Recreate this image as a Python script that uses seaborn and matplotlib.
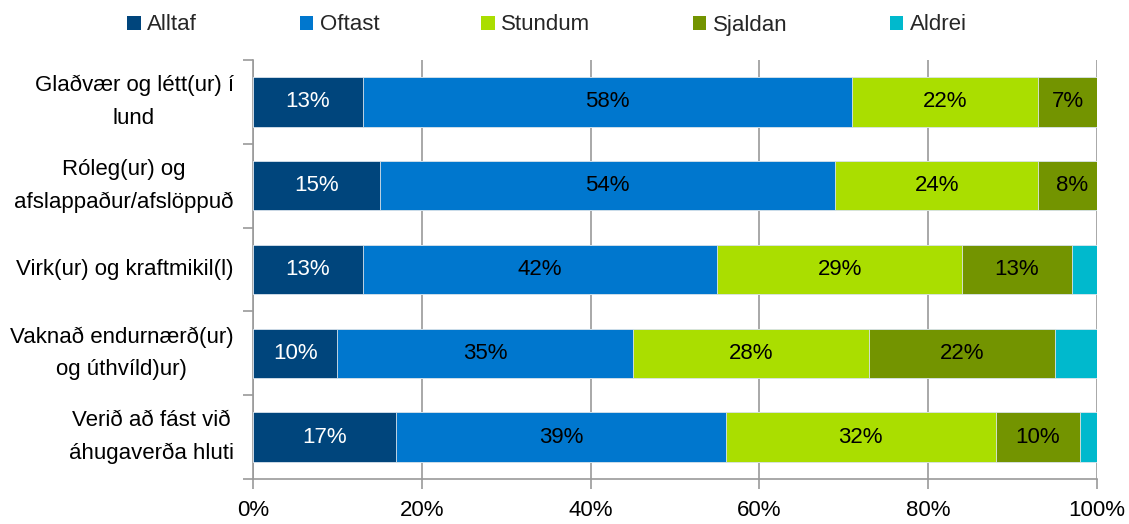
import matplotlib
matplotlib.use("Agg")
import matplotlib.pyplot as plt
from matplotlib import font_manager
from matplotlib.patches import Patch
from matplotlib.ticker import FixedLocator
import numpy as np
import pandas as pd
import seaborn as sns

categories = [
    "Glaðvær og létt(ur) í\nlund",
    "Róleg(ur) og\nafslappaður/afslöppuð",
    "Virk(ur) og kraftmikil(l)",
    "Vaknað endurnærð(ur)\nog úthvíld)ur)",
    "Verið að fást við\náhugaverða hluti",
]
series = ["Alltaf", "Oftast", "Stundum", "Sjaldan", "Aldrei"]
alltaf = [13, 15, 13, 10, 17]
oftast = [58, 54, 42, 35, 39]
stundum = [22, 24, 29, 28, 32]
sjaldan = [7, 8, 13, 22, 10]
aldrei = [0, 0, 3, 5, 2]
colors = ["#00457C", "#0077CE", "#AADE00", "#739400", "#00B9CD"]
label_colors = ["white", "black", "black", "black", "black"]
xticks = [0, 20, 40, 60, 80, 100]

sns.set_theme(style="white")
installed = {f.name for f in font_manager.fontManager.ttflist}
if "Liberation Sans Narrow" in installed:
    plt.rcParams["font.family"] = ["Liberation Sans Narrow", "DejaVu Sans"]
    FS = 18.4
else:
    plt.rcParams["font.family"] = ["Liberation Sans", "DejaVu Sans"]
    FS = 16

values = np.array([alltaf, oftast, stundum, sjaldan, aldrei], dtype=float)
cums = np.cumsum(values, axis=0)

fig = plt.figure(figsize=(11.29, 5.24), dpi=100)
ax = fig.add_axes([253 / 1129, 1 - 479 / 524, (1097 - 253) / 1129, (479 - 60) / 524])

# Stacked bars: draw cumulative totals from the outermost series inwards
for i in reversed(range(len(series))):
    df = pd.DataFrame({"cat": categories, "val": cums[i]})
    sns.barplot(data=df, x="val", y="cat", orient="h", color=colors[i],
                saturation=1, width=0.59, edgecolor="#DDE6EE", linewidth=0.6,
                ax=ax, zorder=3)

# Segment value labels
for i in range(len(series)):
    for j, cat in enumerate(categories):
        v = values[i, j]
        if v >= 5 and i < 4:
            ax.text(cums[i, j] - v / 2, j, f"{int(v)}%", ha="center", va="center",
                    color=label_colors[i], fontsize=FS, zorder=5)

ax.set_xlim(0, 100)
ax.set_ylim(len(categories) - 0.5, -0.5)
ax.xaxis.set_major_locator(FixedLocator(xticks))
ax.set_xticklabels([f"{t}%" for t in xticks], fontsize=FS, color="black")
ax.set_yticks(range(len(categories)))
ax.set_yticklabels(categories, fontsize=FS, color="black", va="center",
                   multialignment="center", linespacing=1.7)
ax.set_xlabel("")
ax.set_ylabel("")
ax.grid(axis="x", color="#9A9A9A", linewidth=1.2, zorder=0)
ax.set_axisbelow(True)

for side in ["top", "right"]:
    ax.spines[side].set_visible(False)
for side in ["left", "bottom"]:
    ax.spines[side].set_color("#9A9A9A")
    ax.spines[side].set_linewidth(1.2)

ax.tick_params(axis="x", which="major", length=7, width=1.2, color="#9A9A9A",
               direction="out", pad=8, bottom=True)
ax.tick_params(axis="y", which="major", length=0, pad=14, left=True)
ax.yaxis.set_minor_locator(FixedLocator(np.arange(-0.5, len(categories), 1.0)))
ax.tick_params(axis="y", which="minor", length=7, width=1.2, color="#9A9A9A",
               direction="out", left=True)

handles = [Patch(facecolor=c, edgecolor="none", label=s) for c, s in zip(colors, series)]
fig.legend(handles=handles, loc="center", bbox_to_anchor=(547 / 1129, 1 - 25 / 524),
           ncol=5, frameon=False, fontsize=FS, handlelength=0.6, handleheight=0.6,
           handletextpad=0.3, columnspacing=4.6, borderpad=0, borderaxespad=0)

fig.savefig("out.png", dpi=100)
